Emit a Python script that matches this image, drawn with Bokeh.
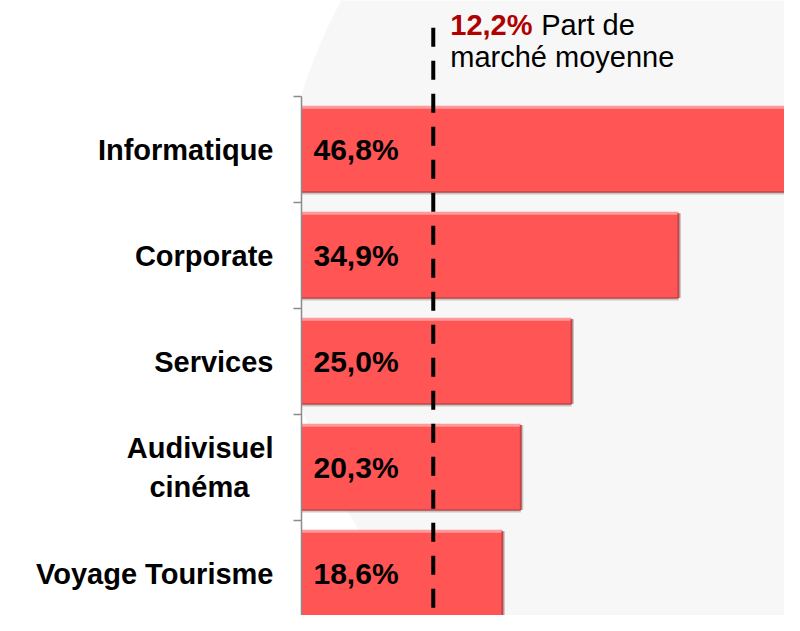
from bokeh.plotting import figure
from bokeh.models import Range1d, FixedTicker, ColumnDataSource
from bokeh.core.properties import value
from bokeh.embed import file_html
from bokeh.resources import INLINE

# ---- data ----
categories = ["Informatique", "Corporate", "Services",
              "Audivisuel\ncinéma\u00a0\u00a0\u00a0", "Voyage Tourisme"]
shares = [46.8, 34.9, 25.0, 20.3, 18.6]
average_share = 12.2
average_label = "12,2%"
average_text_1 = "Part de"
average_text_2 = "marché moyenne"

# ---- derived ----
n = len(categories)
ypos = [n - 1 - i for i in range(n)]
labels = [f"{v:.1f}".replace(".", ",") + "%" for v in shares]
BAR_H = 0.8
src = ColumnDataSource(dict(
    y=ypos, right=shares, label=labels,
    top=[y + BAR_H / 2 for y in ypos],
    bottom=[y - BAR_H / 2 for y in ypos],
    zero=[0] * n,
))

FONT = "Liberation Sans"
Y_END = 5.406
Y_START = -0.396
LINE_TOP = 5.15

p = figure(width=784, height=615, output_backend="svg", toolbar_location=None,
           x_range=Range1d(0, 44.72), y_range=Range1d(Y_START, Y_END),
           x_axis_location=None, y_axis_location="left",
           min_border_left=301, min_border_right=0, min_border_top=0, min_border_bottom=0,
           outline_line_color=None, background_fill_color="white",
           border_fill_color="white")
p.grid.visible = False

# soft background disc
p.circle(x=[46.2], y=[3.05], radius=48.4, radius_dimension="x",
         fill_color="#F7F7F7", line_color=None)

# shadows
p.segment(x0="zero", x1="right", y0="bottom", y1="bottom", source=src,
          line_color="#8a8a8a", line_alpha=0.45, line_width=5)
p.segment(x0="right", x1="right", y0="bottom", y1="top", source=src,
          line_color="#8a8a8a", line_alpha=0.45, line_width=5)

# bars
p.hbar(y="y", left=0, right="right", height=BAR_H, source=src,
       fill_color="#FF5555", line_color=None)
# bevel highlights
p.segment(x0="zero", x1="right", y0="top", y1="top", source=src,
          line_color="#FF9A9A", line_width=3)
p.segment(x0="right", x1="right", y0="bottom", y1="top", source=src,
          line_color="#C04646", line_width=2)
p.segment(x0="zero", x1="right", y0="bottom", y1="bottom", source=src,
          line_color="#C04646", line_width=1.5)

# value labels
p.text(x="zero", y="y", text="label", source=src, x_offset=12,
       text_align="left", text_baseline="middle",
       text_font=value(FONT), text_font_style="bold", text_font_size="30px",
       text_color="black")

# average line
p.segment(x0=[average_share], x1=[average_share], y0=[LINE_TOP], y1=[Y_START],
          line_color="black", line_width=4, line_dash="19 14")

# annotation
p.text(x=[average_share], y=[Y_END], text=[average_label], x_offset=17, y_offset=24,
       text_align="left", text_baseline="alphabetic",
       text_font=value(FONT), text_font_style="bold", text_font_size="29px",
       text_color="#B00000")
p.text(x=[average_share], y=[Y_END], text=[average_text_1], x_offset=108, y_offset=24,
       text_align="left", text_baseline="alphabetic",
       text_font=value(FONT), text_font_size="29px", text_color="black")
p.text(x=[average_share], y=[Y_END], text=[average_text_2], x_offset=17, y_offset=56,
       text_align="left", text_baseline="alphabetic",
       text_font=value(FONT), text_font_size="29px", text_color="black")

# y axis with boundary ticks
ax = p.yaxis[0]
ax.ticker = FixedTicker(ticks=ypos, minor_ticks=[y - 0.5 for y in range(n + 1)])
ax.major_label_overrides = {y: c for y, c in zip(ypos, categories)}
ax.bounds = (-0.5, n - 0.5)
ax.axis_line_color = "#8C8C8C"
ax.axis_line_width = 1.5
ax.major_tick_line_color = None
ax.major_tick_out = 0
ax.major_tick_in = 0
ax.minor_tick_line_color = "#8C8C8C"
ax.minor_tick_line_width = 1.5
ax.minor_tick_out = 8
ax.minor_tick_in = 0
ax.major_label_standoff = 20
ax.major_label_text_font = FONT
ax.major_label_text_font_style = "bold"
ax.major_label_text_font_size = "29px"
ax.major_label_text_color = "black"

open("out.html", "w").write(file_html(p, INLINE))
